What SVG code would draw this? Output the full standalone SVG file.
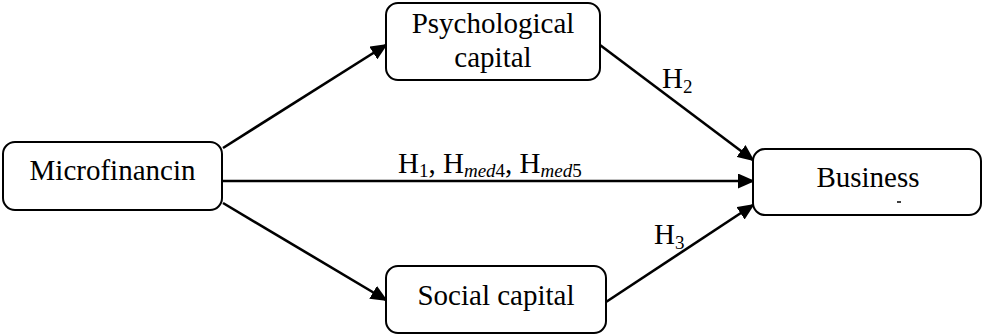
<svg xmlns="http://www.w3.org/2000/svg" width="983" height="335" viewBox="0 0 983 335">
  <style>
    .box { fill: #ffffff; stroke: #000000; stroke-width: 2; }
    .lbl { font-family: "Liberation Serif", "Times New Roman", serif; font-size: 29px; fill: #000000; text-anchor: middle; }
    .hyp { font-family: "Liberation Serif", "Times New Roman", serif; font-size: 29px; fill: #000000; }
    .sub { font-size: 19px; }
    .it { font-style: italic; }
    .edge { fill: none; stroke: #000000; stroke-width: 2.6; marker-end: url(#arrow); }
  </style>
  <defs>
    <marker id="arrow" markerUnits="userSpaceOnUse" markerWidth="17" markerHeight="15" refX="15" refY="7.5" orient="auto">
      <path d="M0,0 L17,7.5 L0,15 z" fill="#000000"/>
    </marker>
  </defs>
  <rect width="983" height="335" fill="#ffffff"/>

  <g id="connectors">
    <path class="edge" d="M223,148 L386,45"/>
    <path class="edge" d="M223,181 L753,181"/>
    <path class="edge" d="M223,203 L386,300"/>
    <path class="edge" d="M600,45 L753,160"/>
    <path class="edge" d="M606,302 L753,205"/>
  </g>

  <g id="node-microfinancin">
    <rect class="box" x="3" y="142" width="219" height="68" rx="12"/>
    <text class="lbl" x="112.5" y="180">Microfinancin</text>
  </g>

  <g id="node-psychological-capital">
    <rect class="box" x="386" y="3" width="214" height="77" rx="12"/>
    <text class="lbl" x="493" y="33">Psychological</text>
    <text class="lbl" x="493" y="67">capital</text>
  </g>

  <g id="node-social-capital">
    <rect class="box" x="386" y="266" width="220" height="67" rx="12"/>
    <text class="lbl" x="496" y="305">Social capital</text>
  </g>

  <g id="node-business">
    <rect class="box" x="753" y="149" width="228" height="66" rx="12"/>
    <text class="lbl" x="868" y="187">Business</text>
    <path d="M897,202 L901,202" stroke="#000000" stroke-width="1.5"/>
  </g>

  <g id="labels">
    <text class="hyp" x="398" y="173">H<tspan class="sub" dy="4">1</tspan><tspan dy="-4">, H</tspan><tspan class="sub it" dy="4">med</tspan><tspan class="sub">4</tspan><tspan dy="-4">, H</tspan><tspan class="sub it" dy="4">med</tspan><tspan class="sub">5</tspan></text>
    <text class="hyp" x="662" y="88">H<tspan class="sub" dy="5">2</tspan></text>
    <text class="hyp" x="654" y="244">H<tspan class="sub" dy="5">3</tspan></text>
  </g>
</svg>
